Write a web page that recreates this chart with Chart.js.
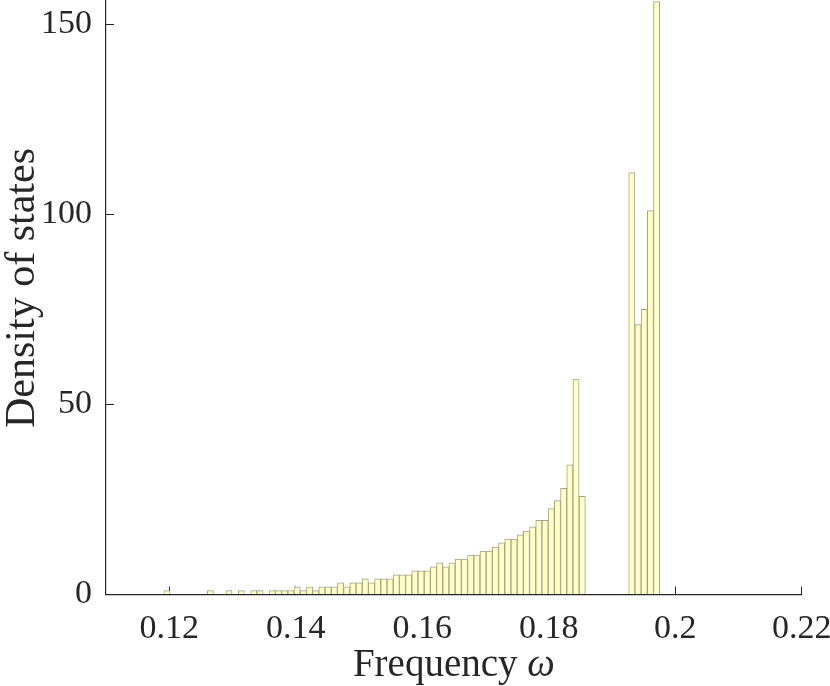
<!DOCTYPE html>
<html>
<head>
<meta charset="utf-8">
<script src="https://cdn.jsdelivr.net/npm/chart.js@4/dist/chart.umd.min.js"></script>
<style>
  html, body { margin: 0; padding: 0; background: #fff; }
  #wrap { width: 830px; height: 686px; }
</style>
</head>
<body>
<div id="wrap"><canvas id="dos" width="830" height="686"></canvas></div>
<script>
// histogram: left edge of first bin and bin width
const binStart = 0.11915;
const binWidth = 0.00098;

// density of states per bin, left to right
const density = [
  1.0, 0, 0, 0, 0, 0, 0, 1.0, 0, 0,
  1.0, 0, 1.0, 0, 1.0, 1.0, 0, 1.0, 1.0, 1.0,
  1.0, 2.05, 1.0, 2.05, 1.0, 2.05, 2.05, 2.05, 3.1, 2.05,
  3.1, 3.1, 4.15, 3.1, 4.15, 4.15, 4.15, 5.2, 5.2, 5.2,
  6.25, 6.25, 6.25, 7.3, 8.3, 7.3, 8.3, 9.3, 9.3, 10.4,
  10.4, 11.4, 11.4, 12.5, 13.6, 14.6, 14.6, 15.7, 16.7, 17.8,
  19.5, 19.5, 22.6, 24.7, 27.9, 34.1, 56.7, 25.8, 0, 0,
  0, 0, 0, 0, 0, 111, 71, 75, 101, 156
];

const xTicks = [0.12, 0.14, 0.16, 0.18, 0.2, 0.22];
const yTicks = [0, 50, 100, 150];

const xTitleText = "Frequency ";
const xTitleSymbol = "\u03C9";
const yTitleText = "Density of states";

// colours / fonts
const AXIS = "#262626";
const FONT = '"Liberation Serif", "DejaVu Serif", serif';

// bars sit at the bin centres on a linear x axis
const points = density.map((v, i) => ({ x: binStart + (i + 0.5) * binWidth, y: v }));

// axis titles drawn by hand so the omega can be italic
const axisTitles = {
  id: "axisTitles",
  afterDraw(chart) {
    const { ctx, chartArea } = chart;
    ctx.save();
    ctx.fillStyle = AXIS;
    ctx.textBaseline = "alphabetic";

    const normal = "39px " + FONT;
    const italic = "italic 39px " + FONT;
    ctx.font = normal;
    const w1 = ctx.measureText(xTitleText).width;
    ctx.font = italic;
    const w2 = ctx.measureText(xTitleSymbol).width;
    const cx = (chartArea.left + chartArea.right) / 2;
    let x = cx - (w1 + w2) / 2;
    ctx.font = normal;
    ctx.textAlign = "left";
    ctx.fillText(xTitleText, x, 676);
    ctx.font = italic;
    ctx.fillText(xTitleSymbol, x + w1, 676);

    // y title sits a little above the axis centre, as in the source
    ctx.translate(34, 288);
    ctx.rotate(-Math.PI / 2);
    ctx.textAlign = "center";
    ctx.font = "42px " + FONT;
    ctx.fillText(yTitleText, 0, 0);
    ctx.restore();
  }
};

const chart = new Chart(document.getElementById("dos").getContext("2d"), {
  type: "bar",
  data: {
    datasets: [{
      label: "DOS",
      data: points,
      backgroundColor: "#ffffc6",
      borderColor: "#a3a38c",
      borderWidth: 1,
      borderSkipped: "start",
      categoryPercentage: 1.0,
      barPercentage: 1.0
    }]
  },
  options: {
    responsive: false,
    animation: false,
    layout: { padding: { left: 0, right: 28.3, top: 0, bottom: 0 } },
    plugins: { legend: { display: false }, tooltip: { enabled: false } },
    scales: {
      x: {
        type: "linear",
        min: 0.11,
        max: 0.22,
        offset: false,
        z: 1,
        grid: { offset: false, drawOnChartArea: false, tickLength: -8, tickColor: AXIS, tickWidth: 1 },
        border: { color: AXIS, width: 1.2 },
        ticks: {
          font: { family: FONT, size: 34 },
          color: AXIS,
          padding: 22,
          maxRotation: 0,
          autoSkip: false,
          callback: v => String(v)
        },
        afterBuildTicks: s => { s.ticks = xTicks.map(v => ({ value: v })); },
        afterFit: s => { s.height = 91.5; s.paddingLeft = 0; s.paddingRight = 0; }
      },
      y: {
        min: 0,
        max: 156.4,
        z: 1,
        grid: { drawOnChartArea: false, tickLength: -8, tickColor: AXIS, tickWidth: 1 },
        border: { color: AXIS, width: 1.2 },
        ticks: {
          font: { family: FONT, size: 34 },
          color: AXIS,
          padding: 22,
          callback: v => String(v)
        },
        afterBuildTicks: s => { s.ticks = yTicks.map(v => ({ value: v })); },
        afterFit: s => { s.width = 106; s.paddingTop = 0; s.paddingBottom = 0; }
      }
    }
  },
  plugins: [axisTitles]
});
</script>
</body>
</html>
